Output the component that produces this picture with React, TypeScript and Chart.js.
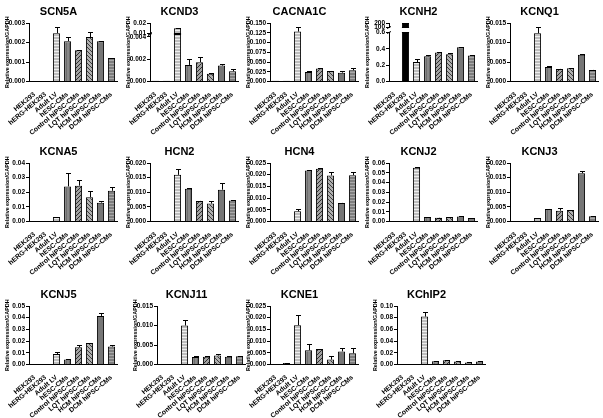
import React, { useEffect, useRef } from 'react';
import { Chart, registerables, LinearScale } from 'chart.js';

Chart.register(...registerables);

// ---------- data ----------
const categories = ['HEK293', 'hERG-HEK293', 'Adult LV', 'hESC-CMs', 'Control hiPSC-CMs', 'LQT hiPSC-CMs', 'HCM hiPSC-CMs', 'DCM hiPSC-CMs'];
const yAxisTitle = 'Relative expression/GAPDH';

const scn5aValues = [0, 0, 0.00248, 0.00207, 0.0016, 0.00228, 0.00207, 0.0012];
const scn5aErrors = [0, 0, 0.0003, 0.0002, 0.00002, 0.00027, 0.00003, 0.00003];
const scn5aTicks = ['0.000', '0.001', '0.002', '0.003'];

const kcnd3Values = [0.00006, 0.00006, 0.0147, 0.00148, 0.00173, 0.0007, 0.00142, 0.00091];
const kcnd3Errors = [0, 0, 0.0005, 0.0005, 0.00048, 0.00003, 0.00018, 0.00024];
const kcnd3Ticks = ['0.000', '0.002', '0.004', '0.01', '0.02'];

const cacna1cValues = [0.0017, 0.002, 0.128, 0.0244, 0.0331, 0.027, 0.0227, 0.0288];
const cacna1cErrors = [0, 0, 0.013, 0.0035, 0.001, 0.0005, 0.003, 0.006];
const cacna1cTicks = ['0.000', '0.025', '0.050', '0.075', '0.100', '0.125', '0.150'];

const kcnh2Values = [0, 200, 0.238, 0.308, 0.353, 0.333, 0.419, 0.316];
const kcnh2Errors = [0, 0, 0.04, 0.02, 0.005, 0.01, 0.003, 0.003];
const kcnh2Ticks = ['0.0', '0.2', '0.4', '0.6', '100', '200'];

const kcnq1Values = [0.0001, 0.0001, 0.01238, 0.00375, 0.00323, 0.0034, 0.00689, 0.00297];
const kcnq1Errors = [0, 0, 0.0015, 0.0001, 0.0001, 0.0001, 0.00005, 0.0001];
const kcnq1Ticks = ['0.000', '0.005', '0.010', '0.015'];

const kcna5Values = [0, 0, 0.003, 0.024, 0.0245, 0.0166, 0.0129, 0.021];
const kcna5Errors = [0, 0, 0.0002, 0.009, 0.0037, 0.0044, 0.0014, 0.0025];
const kcna5Ticks = ['0.00', '0.01', '0.02', '0.03', '0.04'];

const hcn2Values = [0.0002, 0.0001, 0.01595, 0.0112, 0.00705, 0.00613, 0.01087, 0.00717];
const hcn2Errors = [0, 0, 0.002, 0.0002, 0.0001, 0.001, 0.0024, 0.0002];
const hcn2Ticks = ['0.000', '0.005', '0.010', '0.015', '0.020'];

const hcn4Values = [0, 0, 0.00434, 0.0218, 0.02254, 0.01965, 0.00795, 0.0198];
const hcn4Errors = [0, 0, 0.0012, 0.0003, 0.0003, 0.0015, 0.0001, 0.0013];
const hcn4Ticks = ['0.000', '0.005', '0.010', '0.015', '0.020', '0.025'];

const kcnj2Values = [0, 0, 0.0552, 0.0045, 0.0038, 0.0045, 0.0052, 0.0035];
const kcnj2Errors = [0, 0, 0.0006, 0.0005, 0.0003, 0.0004, 0.0005, 0.0003];
const kcnj2Ticks = ['0.00', '0.01', '0.02', '0.03', '0.04', '0.05', '0.06'];

const kcnj3Values = [0.0002, 0.0001, 0.0012, 0.00428, 0.0037, 0.0039, 0.01653, 0.0018];
const kcnj3Errors = [0, 0, 0.0001, 0.0001, 0.0009, 0.0001, 0.0006, 0.0001];
const kcnj3Ticks = ['0.000', '0.005', '0.010', '0.015', '0.020'];

const kcnj5Values = [0, 0, 0.009, 0.0042, 0.0147, 0.0184, 0.0415, 0.0153];
const kcnj5Errors = [0, 0, 0.0013, 0.0006, 0.0022, 0.0002, 0.0022, 0.001];
const kcnj5Ticks = ['0.00', '0.01', '0.02', '0.03', '0.04', '0.05'];

const kcnj11Values = [0.0001, 0, 0.01, 0.0019, 0.002, 0.0023, 0.002, 0.0021];
const kcnj11Errors = [0, 0, 0.0014, 0.0003, 0.0003, 0.0003, 0.0001, 0.0002];
const kcnj11Ticks = ['0.000', '0.005', '0.010', '0.015'];

const kcne1Values = [0.0002, 0.0006, 0.0168, 0.0061, 0.0066, 0.0021, 0.0056, 0.0048];
const kcne1Errors = [0, 0.0002, 0.0045, 0.0027, 0.0002, 0.0014, 0.0015, 0.0024];
const kcne1Ticks = ['0.000', '0.005', '0.010', '0.015', '0.020', '0.025'];

const kchip2Values = [0, 0, 0.0819, 0.0056, 0.0073, 0.0051, 0.0034, 0.0051];
const kchip2Errors = [0, 0, 0.0074, 0.0003, 0.0008, 0.0003, 0.0002, 0.0003];
const kchip2Ticks = ['0.00', '0.02', '0.04', '0.06', '0.08', '0.10'];

// ---------- broken-axis scale ----------
type Brk = { on: boolean; lowMax: number; highMin: number; lowFrac: number; highFrac: number };

class BrokenScale extends LinearScale {
  static id = 'broken';
  static defaults = {};
  buildTicks() {
    const tv = (this.options as any).tickValues as number[];
    return tv.map((v: number) => ({ value: v }));
  }
  getPixelForValue(value: number) {
    const b = (this.options as any).brk;
    if (!b || !b.on) return super.getPixelForValue(value);
    if (value === null || value === undefined || isNaN(value)) return NaN;
    const min = this.min;
    const max = this.max;
    let dec: number;
    if (value <= b.lowMax) dec = ((value - min) / (b.lowMax - min)) * b.lowFrac;
    else if (value >= b.highMin) dec = b.highFrac + ((value - b.highMin) / (max - b.highMin)) * (1 - b.highFrac);
    else dec = b.lowFrac + ((value - b.lowMax) / (b.highMin - b.lowMax)) * (b.highFrac - b.lowFrac);
    return this.getPixelForDecimal(dec);
  }
}
Chart.register(BrokenScale as any);

// ---------- fills ----------
function makeFill(kind: string): CanvasPattern | string {
  const c = document.createElement('canvas');
  const g = c.getContext('2d')!;
  const px = (x: number, y: number, col: string) => { g.fillStyle = col; g.fillRect(x, y, 1, 1); };
  switch (kind) {
    case 'black':
      return '#000000';
    case 'dark':
      return '#222222';
    case 'solid':
      return '#767676';
    case 'hLight': {
      c.width = 4; c.height = 3;
      g.fillStyle = '#bdbdbd'; g.fillRect(0, 0, 4, 3);
      g.fillStyle = '#eeeeee'; g.fillRect(0, 0, 4, 1);
      break;
    }
    case 'vGray': {
      c.width = 3; c.height = 4;
      g.fillStyle = '#888888'; g.fillRect(0, 0, 3, 4);
      g.fillStyle = '#6e6e6e'; g.fillRect(0, 0, 1, 4);
      break;
    }
    case 'diagA': {
      c.width = 4; c.height = 4;
      g.fillStyle = '#a2a2a2'; g.fillRect(0, 0, 4, 4);
      for (let i = 0; i < 4; i++) px(i, 3 - i, '#2e2e2e');
      break;
    }
    case 'diagB': {
      c.width = 4; c.height = 4;
      g.fillStyle = '#b0b0b0'; g.fillRect(0, 0, 4, 4);
      for (let i = 0; i < 4; i++) px(i, i, '#3c3c3c');
      break;
    }
    case 'hDark': {
      c.width = 4; c.height = 3;
      g.fillStyle = '#7e7e7e'; g.fillRect(0, 0, 4, 3);
      g.fillStyle = '#a9a9a9'; g.fillRect(0, 0, 4, 1);
      break;
    }
    default:
      return '#888888';
  }
  return g.createPattern(c, 'repeat') as CanvasPattern;
}
const categoryFills = ['dark', 'black', 'hLight', 'vGray', 'diagA', 'diagB', 'solid', 'hDark'];

// ---------- plugins ----------
function errorPlugin(errors: number[]) {
  return {
    id: 'errbars',
    afterDatasetsDraw(chart: any) {
      const ctx = chart.ctx;
      const meta = chart.getDatasetMeta(0);
      const ys = chart.scales.y;
      const vals = chart.data.datasets[0].data as number[];
      ctx.save();
      ctx.strokeStyle = '#000';
      ctx.lineWidth = 1;
      meta.data.forEach((bar: any, i: number) => {
        const e = errors[i];
        if (!e) return;
        const x = Math.round(bar.x) + 0.5;
        const y0 = ys.getPixelForValue(vals[i]);
        const y1 = Math.round(ys.getPixelForValue(vals[i] + e)) + 0.5;
        ctx.beginPath();
        ctx.moveTo(x, y0);
        ctx.lineTo(x, y1);
        ctx.moveTo(x - 2.5, y1);
        ctx.lineTo(x + 2.5, y1);
        ctx.stroke();
      });
      ctx.restore();
    },
  };
}

function breakPlugin(brk: Brk | undefined) {
  return {
    id: 'axisbreak',
    afterDatasetsDraw(chart: any) {
      if (!brk || !brk.on) return;
      const ctx = chart.ctx;
      const ys = chart.scales.y;
      const area = chart.chartArea;
      const pLow = Math.round(ys.getPixelForValue(brk.lowMax));
      const pHigh = Math.round(ys.getPixelForValue(brk.highMin));
      ctx.save();
      ctx.fillStyle = '#ffffff';
      ctx.fillRect(area.left - 1, pHigh + 1, area.right - area.left + 2, pLow - pHigh - 1);
      ctx.strokeStyle = '#000';
      ctx.lineWidth = 1;
      const meta = chart.getDatasetMeta(0);
      const vals = chart.data.datasets[0].data as number[];
      meta.data.forEach((bar: any, i: number) => {
        if (vals[i] > brk.highMin) {
          const w = bar.width;
          ctx.beginPath();
          ctx.moveTo(bar.x - w / 2, pLow + 0.5);
          ctx.lineTo(bar.x + w / 2, pLow + 0.5);
          ctx.moveTo(bar.x - w / 2, pHigh + 0.5);
          ctx.lineTo(bar.x + w / 2, pHigh + 0.5);
          ctx.stroke();
        }
      });
      const ax = area.left;
      ctx.beginPath();
      ctx.moveTo(ax - 2, pLow + 1.5);
      ctx.lineTo(ax + 2, pLow - 0.5);
      ctx.moveTo(ax - 2, pHigh + 1.5);
      ctx.lineTo(ax + 2, pHigh - 0.5);
      ctx.stroke();
      ctx.restore();
    },
  };
}

// ---------- layout ----------
type Spec = {
  title: string; values: number[]; errors: number[]; ticks: string[]; brk?: Brk;
  left: number; top: number; height: number;
};

const FONT = "'Liberation Sans', Arial, Helvetica, sans-serif";
const W = 120;
const PLOT_TOP = 23;
const PLOT_BOTTOM = 81.5;
const rowTops = [0, 140, 283];
const colLefts = [0, 121, 241, 360, 481];
const row3Lefts = [0, 128, 241, 368];

const panels: Spec[] = [
  { title: 'SCN5A', values: scn5aValues, errors: scn5aErrors, ticks: scn5aTicks, left: colLefts[0], top: rowTops[0], height: 140 },
  { title: 'KCND3', values: kcnd3Values, errors: kcnd3Errors, ticks: kcnd3Ticks, left: colLefts[1], top: rowTops[0], height: 140,
    brk: { on: true, lowMax: 0.0042, highMin: 0.01, lowFrac: 0.804, highFrac: 0.827 } },
  { title: 'CACNA1C', values: cacna1cValues, errors: cacna1cErrors, ticks: cacna1cTicks, left: colLefts[2], top: rowTops[0], height: 140 },
  { title: 'KCNH2', values: kcnh2Values, errors: kcnh2Errors, ticks: kcnh2Ticks, left: colLefts[3], top: rowTops[0], height: 140,
    brk: { on: true, lowMax: 0.6, highMin: 100, lowFrac: 0.84, highFrac: 0.93 } },
  { title: 'KCNQ1', values: kcnq1Values, errors: kcnq1Errors, ticks: kcnq1Ticks, left: colLefts[4], top: rowTops[0], height: 140 },
  { title: 'KCNA5', values: kcna5Values, errors: kcna5Errors, ticks: kcna5Ticks, left: colLefts[0], top: rowTops[1], height: 140 },
  { title: 'HCN2', values: hcn2Values, errors: hcn2Errors, ticks: hcn2Ticks, left: colLefts[1], top: rowTops[1], height: 140 },
  { title: 'HCN4', values: hcn4Values, errors: hcn4Errors, ticks: hcn4Ticks, left: colLefts[2], top: rowTops[1], height: 140 },
  { title: 'KCNJ2', values: kcnj2Values, errors: kcnj2Errors, ticks: kcnj2Ticks, left: colLefts[3], top: rowTops[1], height: 140 },
  { title: 'KCNJ3', values: kcnj3Values, errors: kcnj3Errors, ticks: kcnj3Ticks, left: colLefts[4], top: rowTops[1], height: 140 },
  { title: 'KCNJ5', values: kcnj5Values, errors: kcnj5Errors, ticks: kcnj5Ticks, left: row3Lefts[0], top: rowTops[2], height: 135 },
  { title: 'KCNJ11', values: kcnj11Values, errors: kcnj11Errors, ticks: kcnj11Ticks, left: row3Lefts[1], top: rowTops[2], height: 135 },
  { title: 'KCNE1', values: kcne1Values, errors: kcne1Errors, ticks: kcne1Ticks, left: row3Lefts[2], top: rowTops[2], height: 135 },
  { title: 'KChIP2', values: kchip2Values, errors: kchip2Errors, ticks: kchip2Ticks, left: row3Lefts[3], top: rowTops[2], height: 135 },
];

function Panel({ spec }: { spec: Spec }) {
  const ref = useRef<HTMLCanvasElement>(null);
  useEffect(() => {
    const canvas = ref.current!;
    const tickValues = spec.ticks.map(Number);
    const fills = categoryFills.map(makeFill);
    const chart = new Chart(canvas, {
      type: 'bar',
      data: {
        labels: categories,
        datasets: [{
          data: spec.values,
          backgroundColor: fills as any,
          borderColor: '#000',
          borderWidth: 1,
          barPercentage: 0.65,
          categoryPercentage: 1,
        }],
      },
      options: {
        responsive: false,
        animation: false,
        devicePixelRatio: 1,
        events: [],
        layout: { padding: { left: 0, right: 3, top: 0, bottom: 0 } },
        plugins: {
          legend: { display: false },
          tooltip: { enabled: false },
          title: {
            display: true,
            text: spec.title,
            color: '#000',
            font: { family: FONT, size: 11, weight: 'bold' },
            padding: { top: 5, bottom: PLOT_TOP - 13.2 - 5 },
          },
        },
        scales: {
          x: {
            type: 'category',
            grid: { display: false },
            border: { display: true, color: '#000', width: 1 },
            ticks: {
              autoSkip: false,
              minRotation: 40,
              maxRotation: 40,
              padding: 1,
              color: '#000',
              font: { family: FONT, size: 6.8, weight: 'bold' },
            },
            afterFit: (s: any) => { s.height = spec.height - PLOT_BOTTOM; },
          },
          y: {
            type: 'broken' as any,
            min: 0,
            max: tickValues[tickValues.length - 1],
            tickValues,
            brk: spec.brk ?? { on: false },
            grid: { display: true, drawOnChartArea: false, drawTicks: true, tickLength: 3, color: '#000', lineWidth: 1 },
            border: { display: true, color: '#000', width: 1 },
            ticks: {
              autoSkip: false,
              padding: 1,
              color: '#000',
              font: { family: FONT, size: 6.5, weight: 'bold' },
              callback: (_v: any, i: number) => spec.ticks[i],
            },
            title: {
              display: true,
              text: yAxisTitle,
              color: '#000',
              font: { family: FONT, size: 5.4, weight: 'bold' },
              padding: { top: 4, bottom: 0 },
            },
            afterFit: (s: any) => { s.width = 29; },
          } as any,
        },
      },
      plugins: [breakPlugin(spec.brk), errorPlugin(spec.errors)],
    });
    return () => chart.destroy();
  }, []);
  return (
    <canvas
      ref={ref}
      width={W}
      height={spec.height}
      style={{ position: 'absolute', left: spec.left, top: spec.top, width: W, height: spec.height }}
    />
  );
}

export default function App() {
  return (
    <div style={{ position: 'fixed', left: 0, top: 0, width: 603, height: 418, background: '#fff', overflow: 'hidden' }}>
      {panels.map((p) => (
        <Panel key={p.title} spec={p} />
      ))}
    </div>
  );
}
